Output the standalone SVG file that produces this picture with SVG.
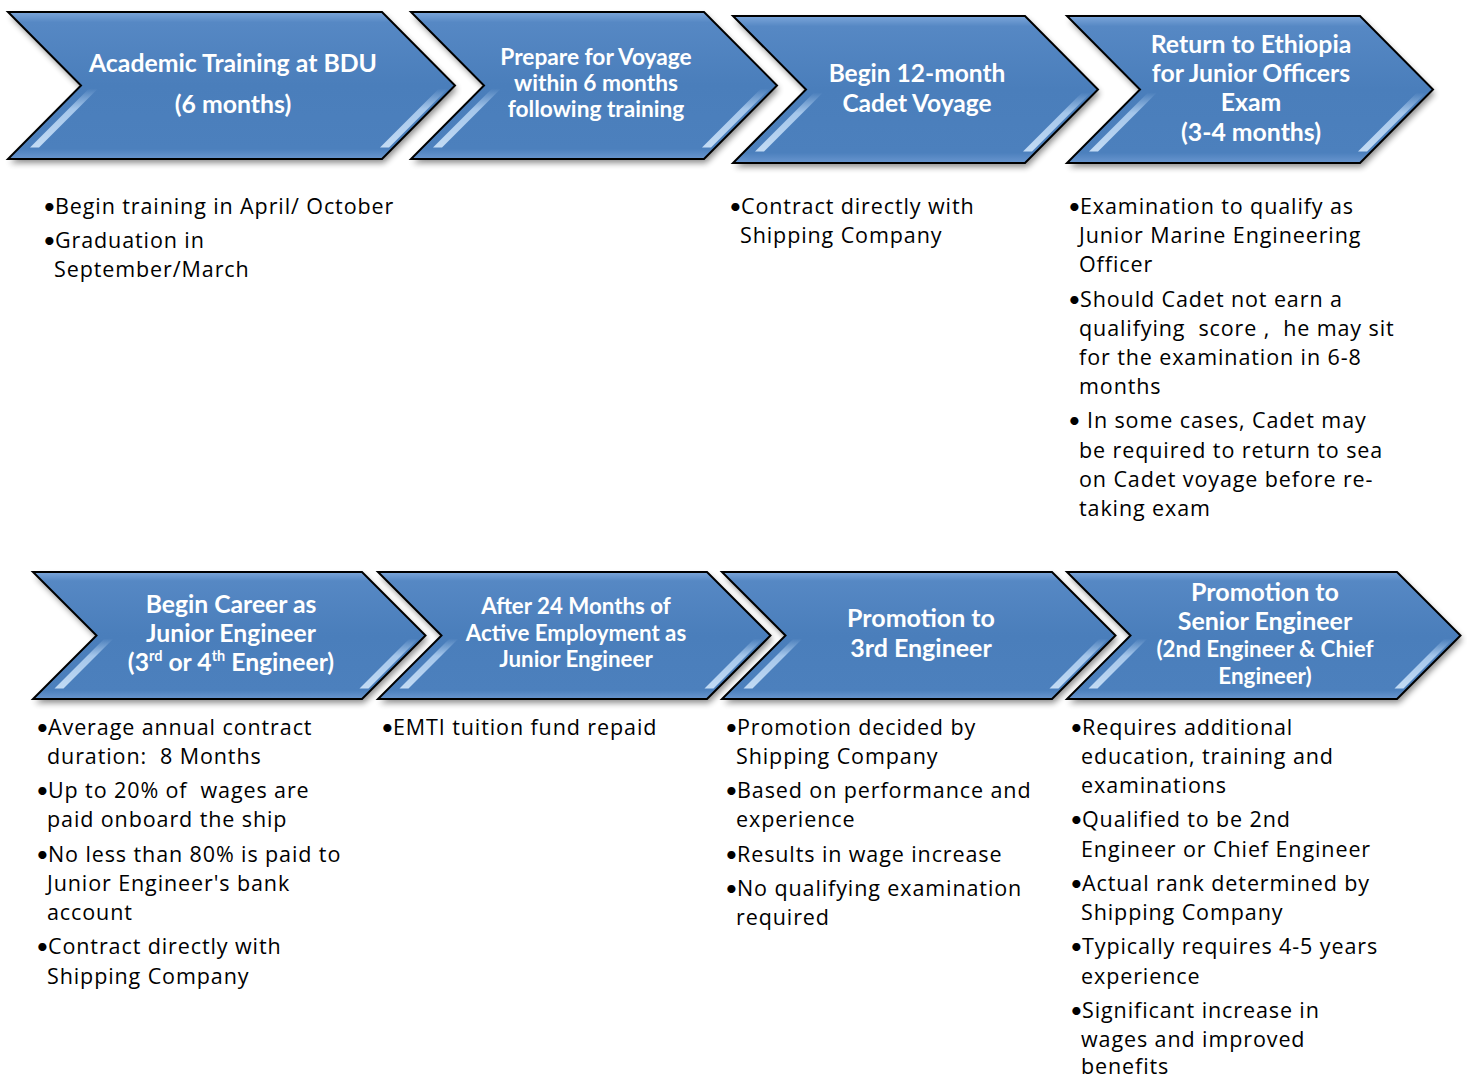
<svg xmlns="http://www.w3.org/2000/svg" width="1467" height="1077" viewBox="0 0 1467 1077">
<style>
.chev{fill:url(#chevFill);stroke:#000;stroke-width:2;stroke-linejoin:miter}
.shadow{fill:#000;opacity:0.45;filter:url(#blur)}
.gloss{fill:url(#glossG)}
.ct{font-family:Lato,"Liberation Sans",sans-serif;font-weight:bold;fill:#fff;text-anchor:middle}
.bt{font-family:"Open Sans","Liberation Sans",sans-serif;font-size:21.5px;letter-spacing:0.9px;fill:#000;white-space:pre}
.bb{font-family:Lato,"Liberation Sans",sans-serif;font-size:22px;fill:#000}
</style>
<defs>
<linearGradient id="chevFill" x1="0" y1="0" x2="0" y2="1">
<stop offset="0" stop-color="#7CA6DA"/>
<stop offset="0.07" stop-color="#5688C4"/>
<stop offset="0.5" stop-color="#4A7EBB"/>
<stop offset="0.93" stop-color="#4C80BD"/>
<stop offset="1" stop-color="#6996CF"/>
</linearGradient>
<linearGradient id="glossG" x1="0" y1="0" x2="0" y2="1">
<stop offset="0" stop-color="#B5D3F3" stop-opacity="0"/>
<stop offset="0.35" stop-color="#B5D3F3" stop-opacity="0.85"/>
<stop offset="1" stop-color="#C9E0F7" stop-opacity="0.95"/>
</linearGradient>
<filter id="blur" x="-10%" y="-20%" width="120%" height="140%"><feGaussianBlur stdDeviation="3"/></filter>
</defs>
<rect width="1467" height="1077" fill="#fff"/>
<g id="connectors"/>

<g id="node1">
<path class="shadow" d="M10,16 L384,16 L457,89.5 L384,163 L10,163 L83,89.5 Z"/>
<path class="chev" d="M8,12 L382,12 L455,85.5 L382,159 L8,159 L81,85.5 Z"/>
<polygon class="gloss" points="89,88.5 98,88.5 39,147.5 30,147.5"/>
<polygon class="gloss" points="439,88.5 448,88.5 389,147.5 380,147.5"/>
<text class="ct" font-size="24.8" x="233" y="72">Academic Training at BDU</text>
<text class="ct" font-size="24.8" x="233" y="113">(6 months)</text>
</g>

<g id="node2">
<path class="shadow" d="M413,16 L706,16 L779,89.5 L706,163 L413,163 L486,89.5 Z"/>
<path class="chev" d="M411,12 L704,12 L777,85.5 L704,159 L411,159 L484,85.5 Z"/>
<polygon class="gloss" points="492,88.5 501,88.5 442,147.5 433,147.5"/>
<polygon class="gloss" points="761,88.5 770,88.5 711,147.5 702,147.5"/>
<text class="ct" font-size="22.7" x="596" y="65">Prepare for Voyage</text>
<text class="ct" font-size="22.7" x="596" y="91">within 6 months</text>
<text class="ct" font-size="22.7" x="596" y="117">following training</text>
</g>

<g id="node3">
<path class="shadow" d="M735,20 L1027,20 L1100,93.5 L1027,167 L735,167 L808,93.5 Z"/>
<path class="chev" d="M733,16 L1025,16 L1098,89.5 L1025,163 L733,163 L806,89.5 Z"/>
<polygon class="gloss" points="814,92.5 823,92.5 764,151.5 755,151.5"/>
<polygon class="gloss" points="1082,92.5 1091,92.5 1032,151.5 1023,151.5"/>
<text class="ct" font-size="24.5" x="917" y="82">Begin 12-month</text>
<text class="ct" font-size="24.5" x="917" y="112">Cadet Voyage</text>
</g>

<g id="node4">
<path class="shadow" d="M1069,20 L1362,20 L1435,93.5 L1362,167 L1069,167 L1142,93.5 Z"/>
<path class="chev" d="M1067,16 L1360,16 L1433,89.5 L1360,163 L1067,163 L1140,89.5 Z"/>
<polygon class="gloss" points="1148,92.5 1157,92.5 1098,151.5 1089,151.5"/>
<polygon class="gloss" points="1417,92.5 1426,92.5 1367,151.5 1358,151.5"/>
<text class="ct" font-size="24.8" x="1251" y="53">Return to Ethiopia</text>
<text class="ct" font-size="24.8" x="1251" y="82">for Junior Officers</text>
<text class="ct" font-size="24.8" x="1251" y="111">Exam</text>
<text class="ct" font-size="24.8" x="1251" y="141">(3-4 months)</text>
</g>

<g id="node5">
<path class="shadow" d="M35,576 L364,576 L427.5,639.5 L364,703 L35,703 L98.5,639.5 Z"/>
<path class="chev" d="M33,572 L362,572 L425.5,635.5 L362,699 L33,699 L96.5,635.5 Z"/>
<polygon class="gloss" points="104.5,638.5 113.5,638.5 63.5,688.5 54.5,688.5"/>
<polygon class="gloss" points="409.5,638.5 418.5,638.5 368.5,688.5 359.5,688.5"/>
<text class="ct" font-size="24.7" x="231" y="613">Begin Career as</text>
<text class="ct" font-size="24.7" x="231" y="642">Junior Engineer</text>
<text class="ct" font-size="24.7" x="231" y="671">(3<tspan font-size="14.5" dy="-10">rd</tspan><tspan dy="10"> or 4</tspan><tspan font-size="14.5" dy="-10">th</tspan><tspan dy="10"> Engineer)</tspan></text>
</g>

<g id="node6">
<path class="shadow" d="M380,576 L709,576 L772.5,639.5 L709,703 L380,703 L443.5,639.5 Z"/>
<path class="chev" d="M378,572 L707,572 L770.5,635.5 L707,699 L378,699 L441.5,635.5 Z"/>
<polygon class="gloss" points="449.5,638.5 458.5,638.5 408.5,688.5 399.5,688.5"/>
<polygon class="gloss" points="754.5,638.5 763.5,638.5 713.5,688.5 704.5,688.5"/>
<text class="ct" font-size="22.3" x="576" y="614">After 24 Months of</text>
<text class="ct" font-size="22.3" x="576" y="641">Active Employment as</text>
<text class="ct" font-size="22.3" x="576" y="667">Junior Engineer</text>
</g>

<g id="node7">
<path class="shadow" d="M724,576 L1054,576 L1117.5,639.5 L1054,703 L724,703 L787.5,639.5 Z"/>
<path class="chev" d="M722,572 L1052,572 L1115.5,635.5 L1052,699 L722,699 L785.5,635.5 Z"/>
<polygon class="gloss" points="793.5,638.5 802.5,638.5 752.5,688.5 743.5,688.5"/>
<polygon class="gloss" points="1099.5,638.5 1108.5,638.5 1058.5,688.5 1049.5,688.5"/>
<text class="ct" font-size="25" x="921" y="627">Promotion to</text>
<text class="ct" font-size="25" x="921" y="657">3rd Engineer</text>
</g>

<g id="node8">
<path class="shadow" d="M1069,576 L1399,576 L1462.5,639.5 L1399,703 L1069,703 L1132.5,639.5 Z"/>
<path class="chev" d="M1067,572 L1397,572 L1460.5,635.5 L1397,699 L1067,699 L1130.5,635.5 Z"/>
<polygon class="gloss" points="1138.5,638.5 1147.5,638.5 1097.5,688.5 1088.5,688.5"/>
<polygon class="gloss" points="1444.5,638.5 1453.5,638.5 1403.5,688.5 1394.5,688.5"/>
<text class="ct" font-size="25" x="1265" y="601">Promotion to</text>
<text class="ct" font-size="25" x="1265" y="630">Senior Engineer</text>
<text class="ct" font-size="22.4" x="1265" y="657">(2nd Engineer &amp; Chief</text>
<text class="ct" font-size="22.4" x="1265" y="684">Engineer)</text>
</g>

<g id="notes1">
<text class="bb" x="43" y="214">•</text><text class="bt" x="55" y="214">Begin training in April/ October</text>
<text class="bb" x="43" y="248">•</text><text class="bt" x="55" y="248">Graduation in</text>
<text class="bt" x="54" y="277">September/March</text>
</g>

<g id="notes3">
<text class="bb" x="729" y="214">•</text><text class="bt" x="741" y="214">Contract directly with</text>
<text class="bt" x="740" y="243">Shipping Company</text>
</g>

<g id="notes4">
<text class="bb" x="1068" y="214">•</text><text class="bt" x="1080" y="214">Examination to qualify as</text>
<text class="bt" x="1079" y="243">Junior Marine Engineering</text>
<text class="bt" x="1079" y="272">Officer</text>
<text class="bb" x="1068" y="307">•</text><text class="bt" x="1080" y="307">Should Cadet not earn a</text>
<text class="bt" x="1079" y="336">qualifying  score ,  he may sit</text>
<text class="bt" x="1079" y="365">for the examination in 6-8</text>
<text class="bt" x="1079" y="394">months</text>
<text class="bb" x="1068" y="428">•</text><text class="bt" x="1087" y="428">In some cases, Cadet may</text>
<text class="bt" x="1079" y="458">be required to return to sea</text>
<text class="bt" x="1079" y="487">on Cadet voyage before re-</text>
<text class="bt" x="1079" y="516">taking exam</text>
</g>

<g id="notes5">
<text class="bb" x="36" y="735">•</text><text class="bt" x="48" y="735">Average annual contract</text>
<text class="bt" x="47" y="764">duration:  8 Months</text>
<text class="bb" x="36" y="798">•</text><text class="bt" x="48" y="798">Up to 20% of  wages are</text>
<text class="bt" x="47" y="827">paid onboard the ship</text>
<text class="bb" x="36" y="862">•</text><text class="bt" x="48" y="862">No less than 80% is paid to</text>
<text class="bt" x="47" y="891">Junior Engineer's bank</text>
<text class="bt" x="47" y="920">account</text>
<text class="bb" x="36" y="954">•</text><text class="bt" x="48" y="954">Contract directly with</text>
<text class="bt" x="47" y="984">Shipping Company</text>
</g>

<g id="notes6">
<text class="bb" x="381" y="735">•</text><text class="bt" x="393" y="735">EMTI tuition fund repaid</text>
</g>

<g id="notes7">
<text class="bb" x="725" y="735">•</text><text class="bt" x="737" y="735">Promotion decided by</text>
<text class="bt" x="736" y="764">Shipping Company</text>
<text class="bb" x="725" y="798">•</text><text class="bt" x="737" y="798">Based on performance and</text>
<text class="bt" x="736" y="827">experience</text>
<text class="bb" x="725" y="862">•</text><text class="bt" x="737" y="862">Results in wage increase</text>
<text class="bb" x="725" y="896">•</text><text class="bt" x="737" y="896">No qualifying examination</text>
<text class="bt" x="736" y="925">required</text>
</g>

<g id="notes8">
<text class="bb" x="1070" y="735">•</text><text class="bt" x="1082" y="735">Requires additional</text>
<text class="bt" x="1081" y="764">education, training and</text>
<text class="bt" x="1081" y="793">examinations</text>
<text class="bb" x="1070" y="827">•</text><text class="bt" x="1082" y="827">Qualified to be 2nd</text>
<text class="bt" x="1081" y="857">Engineer or Chief Engineer</text>
<text class="bb" x="1070" y="891">•</text><text class="bt" x="1082" y="891">Actual rank determined by</text>
<text class="bt" x="1081" y="920">Shipping Company</text>
<text class="bb" x="1070" y="954">•</text><text class="bt" x="1082" y="954">Typically requires 4-5 years</text>
<text class="bt" x="1081" y="984">experience</text>
<text class="bb" x="1070" y="1018">•</text><text class="bt" x="1082" y="1018">Significant increase in</text>
<text class="bt" x="1081" y="1047">wages and improved</text>
<text class="bt" x="1081" y="1074">benefits</text>
</g>
</svg>
